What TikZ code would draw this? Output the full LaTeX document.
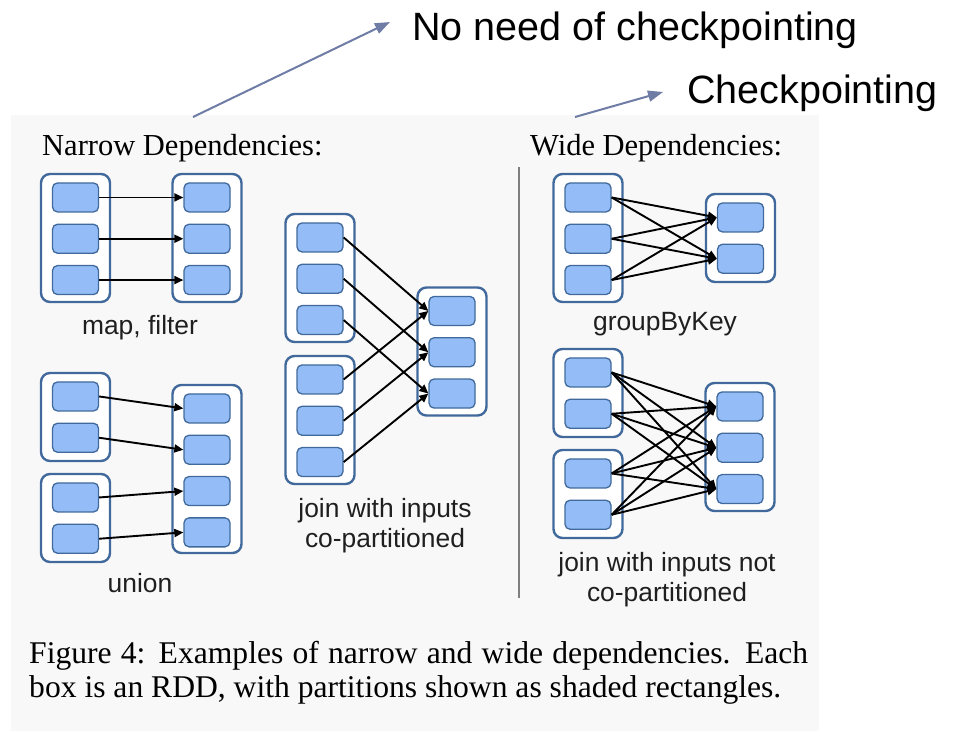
\documentclass[tikz,border=0pt]{standalone}
\usepackage{fontspec}
\setmainfont{Liberation Serif}
\newfontfamily\labelfont{Liberation Sans}
\usetikzlibrary{arrows.meta, positioning}

\definecolor{panelgray}{HTML}{F8F8F8}
\definecolor{partblue}{HTML}{94BDF7}
\definecolor{rddblue}{HTML}{41699B}
\definecolor{notearrow}{HTML}{6E7CA6}

\tikzstyle{rddbox} = [rectangle, rounded corners=9pt, minimum width=69pt, draw=rddblue,
                      line width=2.4pt, fill=white, inner sep=0pt]
\tikzstyle{partbox} = [rectangle, rounded corners=5pt, minimum width=46pt, minimum height=29pt,
                       draw=rddblue, line width=1.3pt, fill=partblue, inner sep=0pt]
\tikzstyle{dep} = [line width=1.9pt, -{Triangle[length=9pt,width=8pt]}, black]
\tikzstyle{note} = [line width=2pt, -{Triangle[length=15pt,width=11pt]}, notearrow]
\tikzstyle{oplabel} = [font=\labelfont\fontsize{26.4}{30}\selectfont, text=black!88, align=center, inner sep=0pt]
\tikzstyle{notetext} = [font=\labelfont\fontsize{39.5}{46}\selectfont, anchor=base west, inner sep=0pt]
\tikzstyle{heading} = [font=\fontsize{30.5}{36}\selectfont, anchor=base west, inner sep=0pt]
\tikzstyle{caption} = [font=\fontsize{31.6}{35}\selectfont, anchor=base west, inner sep=0pt]

\begin{document}
\begin{tikzpicture}[x=1pt, y=-1pt, node distance=11pt]
    \useasboundingbox (0,0) rectangle (957,731);
    \fill[panelgray] (11,115) rectangle (819,731);

    % Notes above the figure
    \node[notetext] (noneed) at (412,40) {No need of checkpointing};
    \node[notetext] (ckpt) at (687,103) {Checkpointing};
    \coordinate (narrowtail) at (193,117);
    \coordinate (widetail) at (575,117);
    \draw[note] (narrowtail) -- ([xshift=-22pt,yshift=18pt]noneed.base west);
    \draw[note] (widetail) -- ([xshift=-24pt,yshift=11pt]ckpt.base west);

    % Headings
    \node[heading] (narrowhead) at (42,155) {Narrow Dependencies:};
    \node[heading] (widehead) at (530,155) {Wide Dependencies:};
    \draw[line width=2.2pt, black!50] (519,167) -- (519,598);

    % RDD boxes
    \node[rddbox, minimum height=128pt] (mapA) at (75.5,238) {};
    \node[rddbox, minimum height=128pt] (mapB) at (207,238) {};
    \node[rddbox, minimum height=88pt] (unionA) at (75.5,417) {};
    \node[rddbox, minimum height=88pt] (unionB) at (75.5,518) {};
    \node[rddbox, minimum height=168pt] (unionC) at (207,469) {};
    \node[rddbox, minimum height=128pt] (joinA) at (320,278) {};
    \node[rddbox, minimum height=128pt] (joinB) at (320,420) {};
    \node[rddbox, minimum height=128pt] (joinC) at (452,351.5) {};
    \node[rddbox, minimum height=128pt] (gbkA) at (588,238) {};
    \node[rddbox, minimum height=88pt] (gbkB) at (740.5,238) {};
    \node[rddbox, minimum height=88pt] (wideA) at (588,393) {};
    \node[rddbox, minimum height=88pt] (wideB) at (588,494) {};
    \node[rddbox, minimum height=128pt] (wideC) at (740,447) {};

    % Partitions: map, filter
    \node[partbox, below=9.5pt of mapA.north] (mapA1) {};
    \node[partbox, below=of mapA1] (mapA2) {};
    \node[partbox, below=of mapA2] (mapA3) {};
    \node[partbox, below=9.5pt of mapB.north] (mapB1) {};
    \node[partbox, below=of mapB1] (mapB2) {};
    \node[partbox, below=of mapB2] (mapB3) {};

    % Partitions: union
    \node[partbox, below=9.5pt of unionA.north] (unionA1) {};
    \node[partbox, below=of unionA1] (unionA2) {};
    \node[partbox, below=9.5pt of unionB.north] (unionB1) {};
    \node[partbox, below=of unionB1] (unionB2) {};
    \node[partbox, below=9.5pt of unionC.north] (unionC1) {};
    \node[partbox, below=of unionC1] (unionC2) {};
    \node[partbox, below=of unionC2] (unionC3) {};
    \node[partbox, below=of unionC3] (unionC4) {};

    % Partitions: join co-partitioned
    \node[partbox, below=9.5pt of joinA.north] (joinA1) {};
    \node[partbox, below=of joinA1] (joinA2) {};
    \node[partbox, below=of joinA2] (joinA3) {};
    \node[partbox, below=9.5pt of joinB.north] (joinB1) {};
    \node[partbox, below=of joinB1] (joinB2) {};
    \node[partbox, below=of joinB2] (joinB3) {};
    \node[partbox, below=9.5pt of joinC.north] (joinC1) {};
    \node[partbox, below=of joinC1] (joinC2) {};
    \node[partbox, below=of joinC2] (joinC3) {};

    % Partitions: groupByKey
    \node[partbox, below=9.5pt of gbkA.north] (gbkA1) {};
    \node[partbox, below=of gbkA1] (gbkA2) {};
    \node[partbox, below=of gbkA2] (gbkA3) {};
    \node[partbox, below=9.5pt of gbkB.north] (gbkB1) {};
    \node[partbox, below=of gbkB1] (gbkB2) {};

    % Partitions: join not co-partitioned
    \node[partbox, below=9.5pt of wideA.north] (wideA1) {};
    \node[partbox, below=of wideA1] (wideA2) {};
    \node[partbox, below=9.5pt of wideB.north] (wideB1) {};
    \node[partbox, below=of wideB1] (wideB2) {};
    \node[partbox, below=9.5pt of wideC.north] (wideC1) {};
    \node[partbox, below=of wideC1] (wideC2) {};
    \node[partbox, below=of wideC2] (wideC3) {};

    % Operation labels
    \node[oplabel, anchor=base] (maplabel) at (140,334) {map, filter};
    \node[oplabel, anchor=base] (unionlabel) at (140,592) {union};
    \node[oplabel] (joinlabel) at (385,526) {join with inputs\\co-partitioned};
    \node[oplabel, anchor=base] (gbklabel) at (665,330) {groupByKey};
    \node[oplabel] (widelabel) at (667,580) {join with inputs not\\co-partitioned};

    % Arrows: narrow
    \draw[dep] (mapA1.east) -- (mapB1.west);
    \draw[dep] (mapA2.east) -- (mapB2.west);
    \draw[dep] (mapA3.east) -- (mapB3.west);
    \draw[dep] (unionA1.east) -- (unionC1.west);
    \draw[dep] (unionA2.east) -- (unionC2.west);
    \draw[dep] (unionB1.east) -- (unionC3.west);
    \draw[dep] (unionB2.east) -- (unionC4.west);
    \draw[dep] (joinA1.east) -- (joinC1.west);
    \draw[dep] (joinA2.east) -- (joinC2.west);
    \draw[dep] (joinA3.east) -- (joinC3.west);
    \draw[dep] (joinB1.east) -- (joinC1.west);
    \draw[dep] (joinB2.east) -- (joinC2.west);
    \draw[dep] (joinB3.east) -- (joinC3.west);

    % Arrows: wide
    \draw[dep] (gbkA1.east) -- (gbkB1.west);
    \draw[dep] (gbkA1.east) -- (gbkB2.west);
    \draw[dep] (gbkA2.east) -- (gbkB1.west);
    \draw[dep] (gbkA2.east) -- (gbkB2.west);
    \draw[dep] (gbkA3.east) -- (gbkB1.west);
    \draw[dep] (gbkA3.east) -- (gbkB2.west);
    \draw[dep] (wideA1.east) -- (wideC1.west);
    \draw[dep] (wideA1.east) -- (wideC2.west);
    \draw[dep] (wideA1.east) -- (wideC3.west);
    \draw[dep] (wideA2.east) -- (wideC1.west);
    \draw[dep] (wideA2.east) -- (wideC2.west);
    \draw[dep] (wideA2.east) -- (wideC3.west);
    \draw[dep] (wideB1.east) -- (wideC1.west);
    \draw[dep] (wideB1.east) -- (wideC2.west);
    \draw[dep] (wideB1.east) -- (wideC3.west);
    \draw[dep] (wideB2.east) -- (wideC1.west);
    \draw[dep] (wideB2.east) -- (wideC2.west);
    \draw[dep] (wideB2.east) -- (wideC3.west);

    % Caption
    \node[caption] (capline1) at (29,663) {\makebox[779pt][s]{Figure 4: Examples of narrow and wide dependencies. Each}};
    \node[caption] (capline2) at (29,697) {box is an RDD, with partitions shown as shaded rectangles.};
\end{tikzpicture}
\end{document}
